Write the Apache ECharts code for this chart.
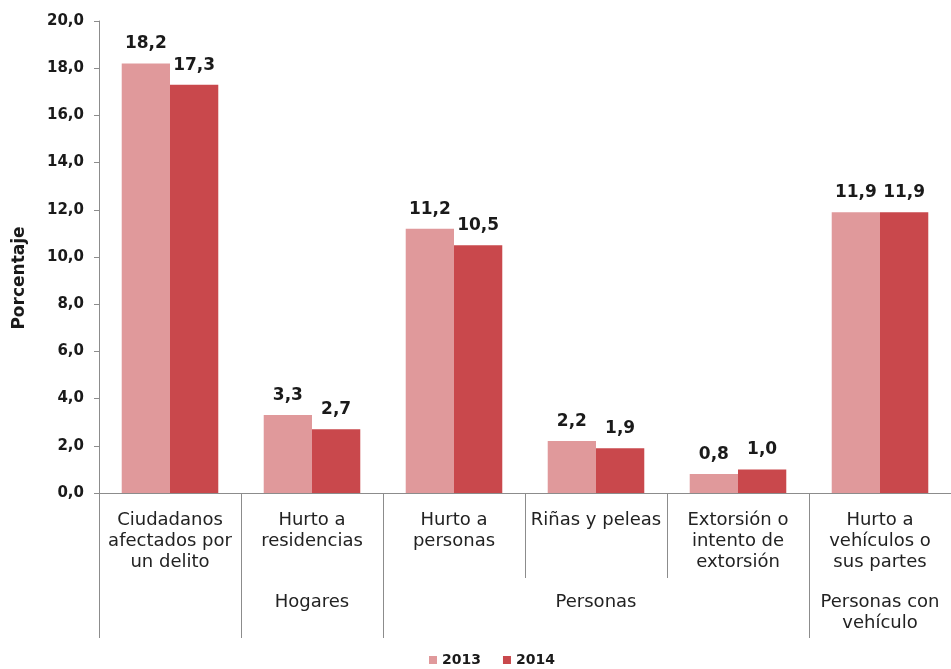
<!DOCTYPE html>
<html>
<head>
<meta charset="utf-8">
<script src="https://cdn.jsdelivr.net/npm/echarts@6/dist/echarts.min.js"></script>
<style>
html,body{margin:0;padding:0;background:#fff;}
#chart{width:951px;height:669px;}
</style>
</head>
<body>
<div id="chart"></div>
<script>
var categories = ["Ciudadanos\nafectados por\nun delito", "Hurto a\nresidencias", "Hurto a\npersonas", "Riñas y peleas", "Extorsión o\nintento de\nextorsión", "Hurto a\nvehículos o\nsus partes"];
var groupLabels = ["", "Hogares", "", "Personas", "", "Personas con\nvehículo"];
var groupBoundaryIdx = [0, 1, 2, 5];
var seriesNames = ["2013", "2014"];
var values2013 = [18.2, 3.3, 11.2, 2.2, 0.8, 11.9];
var values2014 = [17.3, 2.7, 10.5, 1.9, 1.0, 11.9];
var yTicks = { min: 0, max: 20, interval: 2 };

function fmt(v) { return Number(v).toFixed(1).replace('.', ','); }

var chart = echarts.init(document.getElementById('chart'), null, { renderer: 'canvas' });
var font = 'DejaVu Sans';
var labelStyle = {
  show: true, position: 'top', distance: 11, formatter: function (p) { return fmt(p.value); },
  fontFamily: font, fontWeight: 'bold', fontSize: 17, color: '#1a1a1a'
};
chart.setOption({
  backgroundColor: '#ffffff',
  animation: false,
  grid: { left: 99, top: 21, width: 854, height: 472, containLabel: false },
  legend: {
    data: seriesNames, left: 424, top: 648, icon: 'rect', itemWidth: 8, itemHeight: 8, itemGap: 22,
    textStyle: { fontFamily: font, fontWeight: 'bold', fontSize: 14, color: '#1a1a1a' }
  },
  xAxis: [{
    type: 'category', data: categories, position: 'bottom',
    axisLine: { show: true, lineStyle: { color: '#8c8c8c', width: 1 } },
    axisTick: { show: true, length: 85, alignWithLabel: false, lineStyle: { color: '#8c8c8c' } },
    axisLabel: { interval: 0, margin: 17, fontFamily: font, fontSize: 18, lineHeight: 21, color: '#222' }
  }, {
    type: 'category', data: groupLabels, position: 'bottom', offset: 85,
    axisLine: { show: false },
    axisTick: { show: true, length: 60, alignWithLabel: false,
      interval: function (i) { return groupBoundaryIdx.indexOf(i) >= 0; },
      lineStyle: { color: '#8c8c8c' } },
    axisLabel: { interval: 0, margin: 14, fontFamily: font, fontSize: 18, lineHeight: 21, color: '#222' }
  }],
  yAxis: {
    type: 'value', min: yTicks.min, max: yTicks.max, interval: yTicks.interval,
    name: 'Porcentaje', nameLocation: 'middle', nameGap: 71, nameRotate: 90,
    nameTextStyle: { fontFamily: font, fontWeight: 'bold', fontSize: 17, color: '#1a1a1a', padding: [0, 42, 0, 0] },
    axisLine: { show: true, lineStyle: { color: '#8c8c8c' } },
    axisTick: { show: true, length: 5, lineStyle: { color: '#8c8c8c' } },
    splitLine: { show: false },
    axisLabel: { margin: 15, formatter: fmt, fontFamily: font, fontWeight: 'bold', fontSize: 15, color: '#1a1a1a' }
  },
  series: [{
    name: seriesNames[0], type: 'bar', data: values2013, barGap: '0%', barCategoryGap: '32%',
    itemStyle: { color: '#E0999B' }, label: labelStyle
  }, {
    name: seriesNames[1], type: 'bar', data: values2014, barGap: '0%', barCategoryGap: '32%',
    itemStyle: { color: '#C9484C' }, label: labelStyle
  }]
});
</script>
</body>
</html>
